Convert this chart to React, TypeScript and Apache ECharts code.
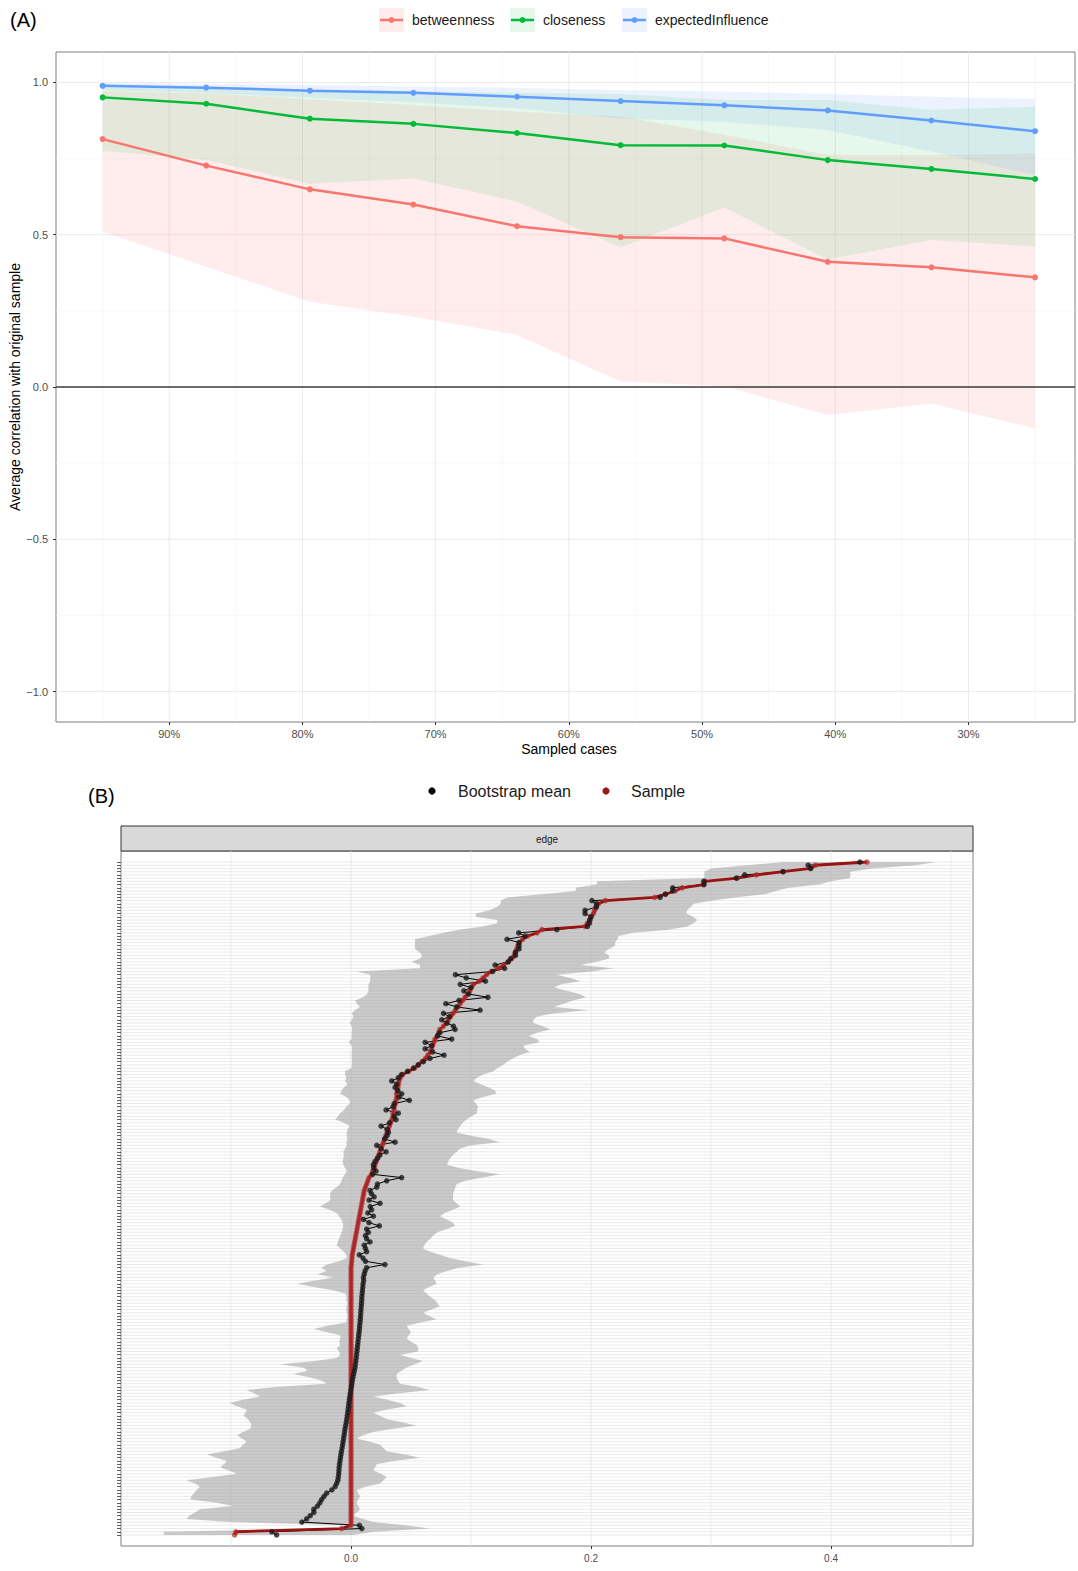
import React, { useEffect, useRef } from 'react';
import * as echarts from 'echarts';

const FONT = '"Liberation Sans", Arial, Helvetica, sans-serif';

// ---------------- Panel A: case-dropping stability ----------------
const sampledCases = [95, 87.22, 79.44, 71.67, 63.89, 56.11, 48.33, 40.56, 32.78, 25];
const betweenness = [0.814, 0.727, 0.649, 0.599, 0.528, 0.492, 0.488, 0.411, 0.393, 0.360];
const betweennessLower = [0.510, 0.395, 0.280, 0.231, 0.171, 0.018, 0.003, -0.092, -0.054, -0.136];
const betweennessUpper = [0.972, 0.964, 0.945, 0.926, 0.904, 0.888, 0.828, 0.762, 0.762, 0.767];
const closeness = [0.951, 0.930, 0.881, 0.864, 0.834, 0.794, 0.793, 0.745, 0.716, 0.683];
const closenessLower = [0.776, 0.745, 0.667, 0.685, 0.609, 0.458, 0.589, 0.419, 0.483, 0.461];
const closenessUpper = [0.990, 0.985, 0.977, 0.972, 0.966, 0.962, 0.942, 0.942, 0.910, 0.920];
const expectedInfluence = [0.989, 0.983, 0.973, 0.966, 0.953, 0.939, 0.925, 0.908, 0.875, 0.840];
const expectedInfluenceLower = [0.975, 0.965, 0.950, 0.935, 0.915, 0.882, 0.871, 0.844, 0.773, 0.696];
const expectedInfluenceUpper = [0.998, 0.996, 0.992, 0.987, 0.982, 0.975, 0.970, 0.962, 0.953, 0.946];

const pctTicks = [90, 80, 70, 60, 50, 40, 30];
const pctMinor = [95, 85, 75, 65, 55, 45, 35, 25];
const corrTicks = [-1, -0.5, 0, 0.5, 1];
const corrMinor = [-0.75, -0.25, 0.25, 0.75];

// ---------------- Panel B: bootstrapped edge weights ----------------
const edgeSample = [
  0.430, 0.387, 0.383, 0.360, 0.338, 0.322, 0.295, 0.294, 0.276, 0.270,
  0.262, 0.253, 0.212, 0.206, 0.204, 0.203, 0.202, 0.200, 0.199, 0.197,
  0.195, 0.159, 0.155, 0.147, 0.143, 0.140, 0.139, 0.138, 0.137, 0.136,
  0.134, 0.131, 0.127, 0.123, 0.117, 0.113, 0.110, 0.107, 0.102, 0.100,
  0.099, 0.097, 0.095, 0.093, 0.091, 0.089, 0.087, 0.085, 0.083, 0.081,
  0.079, 0.077, 0.074, 0.073, 0.072, 0.070, 0.069, 0.068, 0.067, 0.066,
  0.064, 0.062, 0.059, 0.056, 0.053, 0.048, 0.043, 0.041, 0.040, 0.0395,
  0.039, 0.0385, 0.038, 0.038, 0.0375, 0.037, 0.036, 0.036, 0.035, 0.035,
  0.034, 0.033, 0.032, 0.031, 0.030, 0.029, 0.028, 0.027, 0.026, 0.025,
  0.024, 0.023, 0.022, 0.021, 0.020, 0.019, 0.018, 0.017, 0.015, 0.014,
  0.013, 0.012, 0.011, 0.0105, 0.010, 0.0095, 0.009, 0.0085, 0.008, 0.0075,
  0.007, 0.0065, 0.006, 0.0055, 0.005, 0.0045, 0.004, 0.0035, 0.003, 0.0025,
  0.002, 0.0015, 0.001, 0.0008, 0.0005, 0.0003, 0, 0, 0, 0,
  0, 0, 0, 0, 0, 0, 0, 0, 0, 0,
  0, 0, 0, 0, 0, 0, 0, 0, 0, 0,
  0, 0, 0, 0, 0, 0, 0, 0, 0, 0,
  0, 0, 0, 0, 0, 0, 0, 0, 0, 0,
  0, 0, 0, 0, 0, 0, 0, 0, 0, 0,
  0, 0, 0, 0, 0, 0, 0, 0, 0, 0,
  0, 0, 0, 0, 0, 0, 0, 0, 0, 0,
  0, 0, 0, 0, 0, 0, 0, -0.008, -0.096, -0.097,
];
const edgeMean = [
  0.424, 0.381, 0.383, 0.360, 0.328, 0.321, 0.294, 0.294, 0.268, 0.268,
  0.262, 0.2575, 0.2007, 0.2045, 0.2045, 0.195, 0.195, 0.200, 0.199, 0.1986,
  0.197, 0.1715, 0.1397, 0.145, 0.130, 0.140, 0.140, 0.140, 0.137, 0.137,
  0.133, 0.131, 0.120, 0.128, 0.118, 0.087, 0.096, 0.112, 0.091, 0.100,
  0.094, 0.098, 0.114, 0.090, 0.079, 0.088, 0.1075, 0.077, 0.082, 0.0756,
  0.080, 0.0853, 0.0867, 0.074, 0.072, 0.0839, 0.0617, 0.0672, 0.0617, 0.068,
  0.0775, 0.0658, 0.0603, 0.056, 0.052, 0.047, 0.042, 0.0394, 0.0339, 0.038,
  0.0367, 0.039, 0.0422, 0.040, 0.0486, 0.036, 0.035, 0.0292, 0.0394, 0.036,
  0.0375, 0.032, 0.025, 0.030, 0.0311, 0.030, 0.028, 0.0367, 0.0214, 0.025,
  0.0292, 0.024, 0.022, 0.020, 0.0186, 0.019, 0.0208, 0.018, 0.0422, 0.0297,
  0.022, 0.0214, 0.0158, 0.017, 0.0192, 0.015, 0.0242, 0.016, 0.0172, 0.014,
  0.0186, 0.0103, 0.015, 0.0236, 0.013, 0.0144, 0.012, 0.013, 0.0158, 0.011,
  0.012, 0.013, 0.0069, 0.010, 0.012, 0.0283, 0.013, 0.0117, 0.011, 0.0103,
  0.0105, 0.010, 0.0098, 0.0095, 0.0093, 0.009, 0.0089, 0.0087, 0.0085, 0.0083,
  0.0081, 0.0079, 0.0077, 0.0075, 0.0072, 0.007, 0.0067, 0.0064, 0.0061, 0.0058,
  0.0055, 0.0052, 0.0049, 0.0046, 0.0043, 0.004, 0.0036, 0.0033, 0.0028, 0.0022,
  0.0016, 0.0011, 0.0007, 0.0003, -0.0002, -0.0006, -0.001, -0.0014, -0.0018, -0.0021,
  -0.0024, -0.0028, -0.0032, -0.0036, -0.004, -0.0045, -0.005, -0.0054, -0.0058, -0.0062,
  -0.0066, -0.007, -0.0075, -0.008, -0.0084, -0.0088, -0.0092, -0.0096, -0.0099, -0.0101,
  -0.0103, -0.0106, -0.011, -0.012, -0.0133, -0.016, -0.0203, -0.0225, -0.0245, -0.026,
  -0.028, -0.031, -0.031, -0.034, -0.037, -0.041, 0.007, 0.009, -0.066, -0.062,
];
const edgeLower = [
  0.360, 0.330, 0.300, 0.2944, 0.2944, 0.2944, 0.205, 0.205, 0.1873, 0.1873,
  0.160, 0.130, 0.1248, 0.1248, 0.1218, 0.115, 0.104, 0.104, 0.1218, 0.1218,
  0.110, 0.090, 0.077, 0.065, 0.0533, 0.0533, 0.0533, 0.0533, 0.057, 0.0593,
  0.0575, 0.0504, 0.0575, 0.0575, 0.0047, 0.016, 0.016, 0.016, 0.0145, 0.0145,
  0.0145, 0.0133, 0.010, 0.0033, 0.005, 0.0075, 0.003, 0.0006, 0.002, 0.0006,
  -0.001, 0.0006, 0.001, 0.0006, 0.0006, 0.0006, -0.002, 0.0006, 0.001, 0.0006,
  0.0006, 0.0006, 0.001, 0.0006, 0.0006, -0.005, -0.005, -0.004, -0.005, -0.003,
  -0.006, -0.008, -0.009, -0.004, -0.001, -0.001, -0.004, -0.006, -0.009, -0.011,
  -0.0133, -0.006, -0.001, -0.003, -0.0036, -0.0036, -0.003, -0.004, -0.0036, -0.005,
  -0.0064, -0.006, -0.0064, -0.007, -0.0064, -0.005, -0.0036, -0.005, -0.007, -0.008,
  -0.009, -0.012, -0.016, -0.0175, -0.0175, -0.017, -0.021, -0.026, -0.018, -0.0119,
  -0.010, -0.008, -0.007, -0.0064, -0.007, -0.0078, -0.009, -0.010, -0.011, -0.0119,
  -0.009, -0.006, -0.004, -0.0036, -0.010, -0.020, -0.025, -0.0203, -0.028, -0.015,
  -0.030, -0.045, -0.031, -0.015, -0.005, -0.0036, -0.004, -0.003, -0.0036, -0.004,
  -0.0036, -0.003, -0.0036, -0.004, -0.020, -0.031, -0.020, -0.009, -0.009, -0.010,
  -0.009, -0.0119, -0.010, -0.009, -0.0119, -0.030, -0.059, -0.040, -0.036, -0.048,
  -0.035, -0.025, -0.0203, -0.060, -0.087, -0.081, -0.0758, -0.090, -0.101, -0.095,
  -0.087, -0.088, -0.0897, -0.086, -0.084, -0.083, -0.084, -0.090, -0.095, -0.091,
  -0.087, -0.090, -0.0925, -0.105, -0.120, -0.112, -0.1036, -0.106, -0.109, -0.102,
  -0.095, -0.115, -0.137, -0.130, -0.126, -0.1286, -0.131, -0.133, -0.134, -0.112,
  -0.098, -0.126, -0.130, -0.135, -0.137, -0.100, -0.004, -0.010, -0.156, -0.156,
];
const edgeUpper = [
  0.488, 0.470, 0.434, 0.416, 0.416, 0.416, 0.400, 0.390, 0.365, 0.354,
  0.345, 0.320, 0.300, 0.2855, 0.283, 0.280, 0.2795, 0.285, 0.2885, 0.2855,
  0.280, 0.2646, 0.235, 0.223, 0.222, 0.220, 0.220, 0.215, 0.211, 0.215,
  0.215, 0.205, 0.191, 0.2186, 0.200, 0.171, 0.183, 0.191, 0.175, 0.169,
  0.180, 0.190, 0.196, 0.185, 0.177, 0.169, 0.198, 0.170, 0.155, 0.152,
  0.152, 0.160, 0.166, 0.155, 0.148, 0.155, 0.157, 0.1436, 0.145, 0.149,
  0.140, 0.135, 0.130, 0.127, 0.122, 0.1186, 0.110, 0.105, 0.102, 0.108,
  0.115, 0.120, 0.121, 0.110, 0.102, 0.104, 0.106, 0.105, 0.105, 0.100,
  0.0964, 0.093, 0.091, 0.089, 0.088, 0.100, 0.115, 0.124, 0.100, 0.091,
  0.088, 0.085, 0.0825, 0.081, 0.080, 0.090, 0.105, 0.124, 0.110, 0.095,
  0.088, 0.087, 0.086, 0.085, 0.085, 0.085, 0.088, 0.091, 0.085, 0.078,
  0.074, 0.080, 0.085, 0.0867, 0.080, 0.072, 0.0686, 0.066, 0.063, 0.061,
  0.060, 0.066, 0.074, 0.0825, 0.095, 0.110, 0.090, 0.0797, 0.072, 0.0686,
  0.070, 0.0714, 0.065, 0.060, 0.063, 0.0658, 0.070, 0.072, 0.074, 0.067,
  0.060, 0.065, 0.0714, 0.058, 0.0464, 0.048, 0.050, 0.048, 0.0464, 0.050,
  0.0547, 0.056, 0.056, 0.0408, 0.050, 0.060, 0.053, 0.0464, 0.042, 0.038,
  0.038, 0.039, 0.0408, 0.055, 0.0658, 0.040, 0.0186, 0.030, 0.0408, 0.0464,
  0.030, 0.0186, 0.024, 0.0297, 0.042, 0.0547, 0.035, 0.0186, 0.010, 0.0047,
  0.015, 0.0242, 0.027, 0.0297, 0.045, 0.0575, 0.035, 0.0214, 0.020, 0.0186,
  0.025, 0.0297, 0.027, 0.0242, 0.012, 0.0047, 0.006, 0.0075, 0.006, 0.0047,
  0.006, 0.0075, 0.005, 0.002, 0.010, 0.0186, 0.045, 0.0658, 0.0186, 0.0017,
];
const edgeTicks = [0, 0.2, 0.4];
const edgeMinor = [-0.1, 0.1, 0.3, 0.5];

const RED = '#F8766D';
const GREEN = '#00BA38';
const BLUE = '#619CFF';
const DARKRED = '#9B1212';

type GL = { v: number; dir: 'v' | 'h'; major: boolean };

function gridLines(name: string, idx: number, lines: GL[], anchorX: number, anchorY: number, majorColor: string, minorColor: string, majorW: number, minorW: number) {
  return {
    type: 'custom',
    name,
    xAxisIndex: idx,
    yAxisIndex: idx,
    z: 1,
    silent: true,
    data: lines.map((l) => [l.dir === 'v' ? l.v : anchorX, l.dir === 'h' ? l.v : anchorY]),
    renderItem: (params: any, api: any) => {
      const l = lines[params.dataIndex];
      const cs = params.coordSys;
      const p = api.coord([api.value(0), api.value(1)]);
      const shape = l.dir === 'v'
        ? { x1: p[0], y1: cs.y, x2: p[0], y2: cs.y + cs.height }
        : { x1: cs.x, y1: p[1], x2: cs.x + cs.width, y2: p[1] };
      return {
        type: 'line',
        shape,
        style: { stroke: l.major ? majorColor : minorColor, lineWidth: l.major ? majorW : minorW },
      };
    },
  };
}

function bandA(name: string, lower: number[], upper: number[], fill: string) {
  return {
    type: 'custom',
    name,
    xAxisIndex: 0,
    yAxisIndex: 0,
    z: 2,
    silent: true,
    data: [[sampledCases[0], lower[0]]],
    renderItem: (_p: any, api: any) => {
      const pts: number[][] = [];
      for (let i = 0; i < sampledCases.length; i++) pts.push(api.coord([sampledCases[i], upper[i]]));
      for (let i = sampledCases.length - 1; i >= 0; i--) pts.push(api.coord([sampledCases[i], lower[i]]));
      return { type: 'polygon', shape: { points: pts }, style: { fill } };
    },
  };
}

function lineA(name: string, values: number[], color: string) {
  return {
    type: 'line',
    name,
    xAxisIndex: 0,
    yAxisIndex: 0,
    z: 4,
    silent: true,
    data: sampledCases.map((p, i) => [p, values[i]]),
    symbol: 'circle',
    symbolSize: 6,
    showSymbol: true,
    lineStyle: { color, width: 2.5 },
    itemStyle: { color },
  };
}

function legendKeyA(x: number, label: string, color: string, fill: string) {
  return [
    { type: 'rect', shape: { x, y: 8, width: 25, height: 24 }, style: { fill } },
    { type: 'line', shape: { x1: x + 1, y1: 20, x2: x + 24, y2: 20 }, style: { stroke: color, lineWidth: 2.5 } },
    { type: 'circle', shape: { cx: x + 12.5, cy: 20, r: 3 }, style: { fill: color } },
    { type: 'text', x: x + 33, y: 20, style: { text: label, fill: '#1a1a1a', font: `14px ${FONT}`, textAlign: 'left', textVerticalAlign: 'middle' } },
  ];
}

export default function App() {
  const ref = useRef<HTMLDivElement>(null);

  useEffect(() => {
    document.body.style.margin = '0';
    if (!ref.current) return;
    const chart = echarts.init(ref.current, undefined, { renderer: 'svg' });

    const edgeIndex = edgeSample.map((_, i) => i);

    const linesA: GL[] = [
      ...pctTicks.map((v) => ({ v, dir: 'v' as const, major: true })),
      ...pctMinor.map((v) => ({ v, dir: 'v' as const, major: false })),
      ...corrTicks.map((v) => ({ v, dir: 'h' as const, major: true })),
      ...corrMinor.map((v) => ({ v, dir: 'h' as const, major: false })),
    ];
    const linesB: GL[] = [
      ...edgeTicks.map((v) => ({ v, dir: 'v' as const, major: true })),
      ...edgeMinor.map((v) => ({ v, dir: 'v' as const, major: false })),
      ...edgeIndex.map((v) => ({ v, dir: 'h' as const, major: true })),
    ];

    const tickLabel = { color: '#4D4D4D', fontSize: 11, fontFamily: FONT };
    const noLine = { show: false, onZero: false };

    const option: any = {
      animation: false,
      textStyle: { fontFamily: FONT },
      grid: [
        { left: 56, top: 52, width: 1019, height: 670, show: true, borderColor: '#7f7f7f', borderWidth: 1, backgroundColor: '#ffffff' },
        { left: 121, top: 851, width: 852, height: 695, show: true, borderColor: '#7f7f7f', borderWidth: 1, backgroundColor: '#ffffff' },
      ],
      xAxis: [
        {
          gridIndex: 0, type: 'value', inverse: true, min: 22, max: 98.5, position: 'bottom',
          axisLine: noLine, splitLine: { show: false },
          axisTick: { show: true, customValues: pctTicks, length: 3, lineStyle: { color: '#333', width: 1 } },
          axisLabel: { ...tickLabel, customValues: pctTicks, margin: 6, formatter: (v: number) => `${v}%` },
        },
        {
          gridIndex: 1, type: 'value', min: -0.1917, max: 0.5183, position: 'bottom',
          axisLine: noLine, splitLine: { show: false },
          axisTick: { show: true, customValues: edgeTicks, length: 3, lineStyle: { color: '#333', width: 1 } },
          axisLabel: { ...tickLabel, fontSize: 10, customValues: edgeTicks, margin: 7, formatter: (v: number) => v.toFixed(1) },
        },
      ],
      yAxis: [
        {
          gridIndex: 0, type: 'value', min: -1.1, max: 1.1, position: 'left',
          axisLine: noLine, splitLine: { show: false },
          axisTick: { show: true, customValues: corrTicks, length: 3, lineStyle: { color: '#333', width: 1 } },
          axisLabel: { ...tickLabel, customValues: corrTicks, margin: 8, formatter: (v: number) => (v < 0 ? '\u2212' : '') + Math.abs(v).toFixed(1) },
        },
        {
          gridIndex: 1, type: 'value', inverse: true, min: -3.42, max: 212.42, position: 'left',
          axisLine: noLine, splitLine: { show: false },
          axisTick: { show: true, customValues: edgeIndex, length: 4, lineStyle: { color: '#333', width: 0.8 } },
          axisLabel: { show: false },
        },
      ],
      series: [
        gridLines('gridA', 0, linesA, 50, 0, '#EBEBEB', '#F3F3F3', 1, 0.6),
        bandA('betweennessBand', betweennessLower, betweennessUpper, 'rgba(248,118,109,0.13)'),
        bandA('closenessBand', closenessLower, closenessUpper, 'rgba(0,186,56,0.10)'),
        bandA('expectedInfluenceBand', expectedInfluenceLower, expectedInfluenceUpper, 'rgba(97,156,255,0.12)'),
        {
          type: 'custom', name: 'zeroLine', xAxisIndex: 0, yAxisIndex: 0, z: 3, silent: true,
          data: [[50, 0]],
          renderItem: (params: any, api: any) => {
            const cs = params.coordSys;
            const p = api.coord([api.value(0), api.value(1)]);
            return { type: 'line', shape: { x1: cs.x, y1: p[1], x2: cs.x + cs.width, y2: p[1] }, style: { stroke: '#3d3d3d', lineWidth: 1.6 } };
          },
        },
        lineA('betweenness', betweenness, RED),
        lineA('closeness', closeness, GREEN),
        lineA('expectedInfluence', expectedInfluence, BLUE),

        gridLines('gridB', 1, linesB, 0, 0, '#E4E4E4', '#EBEBEB', 0.8, 0.8),
        {
          type: 'custom', name: 'edgeCI', xAxisIndex: 1, yAxisIndex: 1, z: 2, silent: true,
          data: [[edgeLower[0], 0]],
          renderItem: (_p: any, api: any) => {
            const pts: number[][] = [];
            for (let i = 0; i < edgeIndex.length; i++) pts.push(api.coord([edgeUpper[i], edgeIndex[i]]));
            for (let i = edgeIndex.length - 1; i >= 0; i--) pts.push(api.coord([edgeLower[i], edgeIndex[i]]));
            return { type: 'polygon', shape: { points: pts }, style: { fill: 'rgba(150,150,150,0.5)' } };
          },
        },
        {
          type: 'line', name: 'Bootstrap mean line', xAxisIndex: 1, yAxisIndex: 1, z: 3, silent: true,
          data: edgeMean.map((v, i) => [v, edgeIndex[i]]),
          symbol: 'none', lineStyle: { color: '#000', width: 1 },
        },
        {
          type: 'line', name: 'Sample line', xAxisIndex: 1, yAxisIndex: 1, z: 4, silent: true,
          data: edgeSample.map((v, i) => [v, edgeIndex[i]]),
          symbol: 'none', lineStyle: { color: DARKRED, width: 2.8 },
        },
        {
          type: 'scatter', name: 'Sample', xAxisIndex: 1, yAxisIndex: 1, z: 5, silent: true,
          data: edgeSample.map((v, i) => [v, edgeIndex[i]]),
          symbolSize: 5.5, itemStyle: { color: '#B22A2A', opacity: 0.7 },
        },
        {
          type: 'scatter', name: 'Bootstrap mean', xAxisIndex: 1, yAxisIndex: 1, z: 6, silent: true,
          data: edgeMean.map((v, i) => [v, edgeIndex[i]]),
          symbolSize: 5.5, itemStyle: { color: '#1a1a1a', opacity: 0.8 },
        },
      ],
      graphic: [
        { type: 'text', x: 10, y: 20, style: { text: '(A)', fill: '#000', font: `20px ${FONT}`, textAlign: 'left', textVerticalAlign: 'middle' } },
        ...legendKeyA(379, 'betweenness', RED, 'rgba(248,118,109,0.13)'),
        ...legendKeyA(510, 'closeness', GREEN, 'rgba(0,186,56,0.10)'),
        ...legendKeyA(622, 'expectedInfluence', BLUE, 'rgba(97,156,255,0.12)'),
        { type: 'text', x: 15, y: 387, rotation: Math.PI / 2, style: { text: 'Average correlation with original sample', fill: '#000', font: `14px ${FONT}`, textAlign: 'center', textVerticalAlign: 'middle' } },
        { type: 'text', x: 569, y: 749, style: { text: 'Sampled cases', fill: '#000', font: `14px ${FONT}`, textAlign: 'center', textVerticalAlign: 'middle' } },

        { type: 'text', x: 88, y: 796, style: { text: '(B)', fill: '#000', font: `20px ${FONT}`, textAlign: 'left', textVerticalAlign: 'middle' } },
        { type: 'circle', shape: { cx: 432, cy: 791, r: 3.6 }, style: { fill: '#000' } },
        { type: 'text', x: 458, y: 791, style: { text: 'Bootstrap mean', fill: '#1a1a1a', font: `16px ${FONT}`, textAlign: 'left', textVerticalAlign: 'middle' } },
        { type: 'circle', shape: { cx: 606, cy: 791, r: 3.6 }, style: { fill: '#9B1B1B' } },
        { type: 'text', x: 631, y: 791, style: { text: 'Sample', fill: '#1a1a1a', font: `16px ${FONT}`, textAlign: 'left', textVerticalAlign: 'middle' } },
        { type: 'rect', shape: { x: 121, y: 826, width: 852, height: 25 }, style: { fill: '#D9D9D9', stroke: '#333', lineWidth: 1 } },
        { type: 'text', x: 547, y: 839, style: { text: 'edge', fill: '#1a1a1a', font: `10px ${FONT}`, textAlign: 'center', textVerticalAlign: 'middle' } },
      ],
    };

    chart.setOption(option);
    return () => chart.dispose();
  }, []);

  return <div ref={ref} style={{ width: 1078, height: 1571 }} />;
}
